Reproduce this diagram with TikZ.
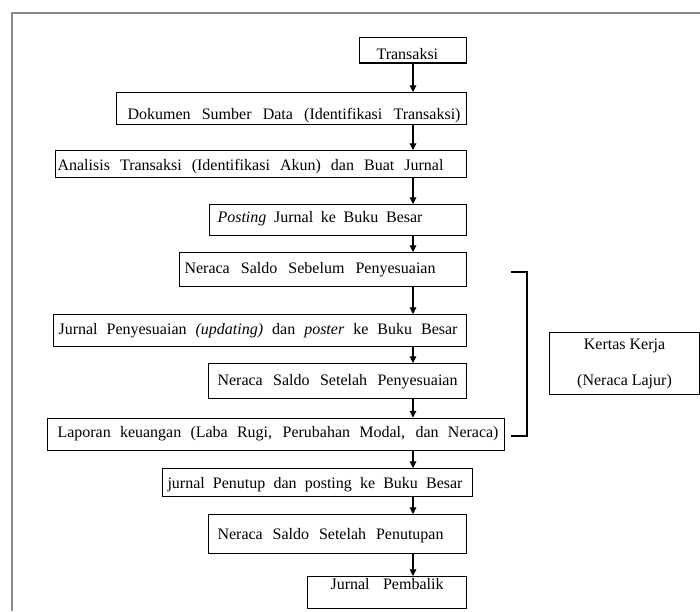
\documentclass[tikz,border=0pt]{standalone}
\usepackage{fontspec}
\setmainfont{Liberation Serif}
\usetikzlibrary{arrows.meta}
\definecolor{rahmengrau}{RGB}{140,140,140}

\tikzset{
  kasten/.style={draw=black, line width=0.8pt, anchor=north west, inner sep=0pt, font=\fontsize{12}{13.8}\selectfont},
  pfeil/.style={-{Triangle[length=5pt,width=5pt]}, line width=0.8pt},
}

\begin{document}
\begin{tikzpicture}[x=0.75pt, y=-0.75pt] % 1 Einheit = 1 Pixel
\useasboundingbox (0,0) rectangle (700,611);
% Rahmen
\draw[rahmengrau, line width=1.5pt] (700,13) -- (12,13) -- (12,611);
% Kaesten: Nr/links/oben/Breite/Innenbreite/Satzbreite/Hoehe/Tiefe/Text
\foreach \nr/\links/\oben/\breite/\tbreite/\sbreite/\hoch/\tief/\txt in {
  1/359/37/80.25pt/54.75pt/47.25pt/16.7pt/2.4pt/Transaksi,
  2/116/92/262.5pt/246pt/249.75pt/20.25pt/3.75pt/Dokumen Sumber Data (Identifikasi Transaksi),
  3/55/150/308.25pt/305.25pt/289.5pt/15pt/5.25pt/Analisis Transaksi (Identifikasi Akun) dan Buat Jurnal,
  4/209/204/192.75pt/180.75pt/153.75pt/13.5pt/9.75pt/\textit{Posting} Jurnal ke Buku Besar,
  5/179/252/215.25pt/207.75pt/188.25pt/15.4pt/10.1pt/Neraca Saldo Sebelum Penyesuaian,
  6/53/314/309.75pt/302.25pt/299.25pt/15pt/9pt/Jurnal Penyesuaian \textit{(updating)} dan \textit{poster} ke Buku Besar,
  7/208/363/193.5pt/180pt/180pt/16.5pt/9.75pt/Neraca Saldo Setelah Penyesuaian,
  8/47/417.5/342.75pt/327.75pt/330.75pt/14.4pt/9.6pt/{Laporan keuangan (Laba Rugi, Perubahan Modal, dan Neraca)},
  9/162/468/232.5pt/225pt/221.25pt/14.6pt/6.4pt/jurnal Penutup dan posting ke Buku Besar,
  10/208/514/193.5pt/180pt/169.5pt/18.75pt/10.5pt/Neraca Saldo Setelah Penutupan,
  11/307/576/119.25pt/84.75pt/84.75pt/9.75pt/14.25pt/Jurnal Pembalik%
}{
  \node[kasten, minimum width=\breite, text height=\hoch, text depth=\tief] (k\nr) at (\links,\oben)
    {\makebox[\tbreite][l]{\makebox[\sbreite][s]{\txt}}}; % Kasten mit gesperrtem Text
}
% Pfeile entlang der Mittellinie
\coordinate (achse) at (413,0);
\foreach \a/\b in {1/2,2/3,3/4,4/5,5/6,6/7,7/8,8/9,9/10,10/11} {
  \draw[pfeil] (k\a.south -| achse) -- (k\b.north -| achse);
}
% Klammer und Kertas Kerja
\coordinate (klammer-o) at (511,272);
\coordinate (klammer-u) at (511,436);
\draw[line width=0.8pt] (klammer-o) -- ++(16,0) |- (klammer-u);
\node[kasten, align=center, minimum width=112.5pt, minimum height=46.5pt] (kerja) at (549,332) {Kertas Kerja\\[13pt](Neraca Lajur)};
\end{tikzpicture}
\end{document}
